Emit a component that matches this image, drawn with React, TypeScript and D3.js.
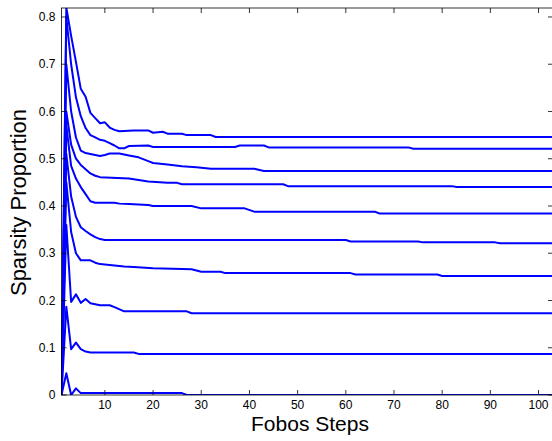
import React from 'react';
import * as d3 from 'd3';

// [step, value]; flat stretches are given by their end points
const run1 = [[1, 0], [2, 0.82], [3, 0.76], [4, 0.705], [5, 0.648], [6, 0.631], [7, 0.597], [8, 0.586], [9, 0.575], [10, 0.577], [11, 0.566], [12, 0.561], [13, 0.558], [16, 0.56], [19, 0.56], [20, 0.555], [22, 0.557], [23, 0.553], [26, 0.553], [27, 0.55], [32, 0.55], [33, 0.546], [103, 0.546]];
const run2 = [[1, 0], [2, 0.8], [3, 0.7], [4, 0.63], [5, 0.59], [6, 0.565], [7, 0.55], [8, 0.545], [9, 0.54], [10, 0.538], [11, 0.533], [12, 0.528], [13, 0.522], [14, 0.522], [15, 0.527], [19, 0.528], [20, 0.525], [37, 0.525], [38, 0.528], [43, 0.528], [44, 0.524], [73, 0.524], [74, 0.521], [103, 0.521]];
const run3 = [[1, 0], [2, 0.7], [3, 0.6], [4, 0.545], [5, 0.517], [6, 0.512], [7, 0.51], [8, 0.508], [9, 0.506], [10, 0.508], [11, 0.511], [13, 0.511], [15, 0.507], [17, 0.503], [19, 0.495], [20, 0.491], [23, 0.488], [26, 0.484], [29, 0.482], [32, 0.479], [41, 0.479], [43, 0.474], [103, 0.474]];
const run4 = [[1, 0], [2, 0.6], [3, 0.53], [4, 0.5], [5, 0.487], [6, 0.478], [7, 0.469], [8, 0.464], [9, 0.461], [15, 0.458], [19, 0.452], [23, 0.449], [25, 0.449], [26, 0.446], [47, 0.446], [48, 0.442], [82, 0.442], [83, 0.44], [103, 0.44]];
const run5 = [[1, 0], [2, 0.57], [3, 0.485], [4, 0.458], [5, 0.44], [6, 0.425], [7, 0.41], [8, 0.407], [12, 0.407], [13, 0.405], [15, 0.404], [19, 0.402], [20, 0.4], [28, 0.4], [30, 0.395], [39, 0.395], [41, 0.388], [66, 0.388], [67, 0.384], [103, 0.384]];
const run6 = [[1, 0], [2, 0.51], [3, 0.42], [4, 0.377], [5, 0.355], [6, 0.347], [7, 0.34], [8, 0.334], [9, 0.33], [10, 0.328], [60, 0.328], [61, 0.325], [75, 0.325], [76, 0.323], [91, 0.323], [92, 0.321], [103, 0.321]];
const run7 = [[1, 0], [2, 0.45], [3, 0.345], [4, 0.3], [5, 0.285], [7, 0.285], [8, 0.28], [9, 0.277], [11, 0.275], [14, 0.272], [16, 0.271], [20, 0.268], [28, 0.266], [30, 0.261], [34, 0.261], [35, 0.258], [61, 0.258], [62, 0.255], [79, 0.255], [80, 0.252], [103, 0.252]];
const run8 = [[1, 0], [2, 0.36], [3, 0.197], [4, 0.213], [5, 0.195], [6, 0.203], [7, 0.194], [8, 0.192], [9, 0.19], [11, 0.19], [12, 0.186], [14, 0.177], [27, 0.177], [28, 0.173], [103, 0.173]];
const run9 = [[1, 0], [2, 0.187], [3, 0.097], [4, 0.111], [5, 0.097], [6, 0.092], [7, 0.09], [16, 0.09], [17, 0.087], [103, 0.087]];
const run10 = [[1, 0], [2, 0.046], [3, 0], [4, 0.014], [5, 0.004], [26, 0.004], [27, 0], [103, 0]];

const runs = [run1, run2, run3, run4, run5, run6, run7, run8, run9, run10];

const xTicks = [10, 20, 30, 40, 50, 60, 70, 80, 90, 100];
const yTicks = [0, 0.1, 0.2, 0.3, 0.4, 0.5, 0.6, 0.7, 0.8];

const W = 552;
const H = 441;
const left = 61.5, right = 553, top = 8, bottom = 395;
const font = '"Liberation Sans", Arial, Helvetica, sans-serif';

export default function App() {
  const x = d3.scaleLinear().domain([1, 103]).range([left, right]);
  const y = d3.scaleLinear().domain([0, 0.819]).range([bottom, top]);
  const line = d3.line<number[]>().x(d => x(d[0])).y(d => y(d[1]));
  const tick = 5;

  return (
    <svg width={W} height={H} style={{ position: 'absolute', left: 0, top: 0, background: '#fff' }}>
      <defs>
        <clipPath id="plot">
          <rect x={left} y={top} width={right - left} height={bottom - top} />
        </clipPath>
      </defs>
      <rect x={0} y={0} width={W} height={H} fill="#fff" />
      <g clipPath="url(#plot)">
        {runs.map((r, i) => (
          <path key={i} d={line(r) || ''} fill="none" stroke="#0000ff" strokeWidth={2} strokeLinejoin="round" />
        ))}
      </g>
      <g stroke="#000" strokeWidth={0.8} fill="none">
        <rect x={left} y={top} width={right - left} height={bottom - top} />
        {xTicks.map(t => (
          <g key={'x' + t}>
            <line x1={x(t)} x2={x(t)} y1={bottom} y2={bottom - tick} />
            <line x1={x(t)} x2={x(t)} y1={top} y2={top + tick} />
          </g>
        ))}
        {yTicks.map(t => (
          <g key={'y' + t}>
            <line x1={left} x2={left + tick} y1={y(t)} y2={y(t)} />
            <line x1={right} x2={right - tick} y1={y(t)} y2={y(t)} />
          </g>
        ))}
      </g>
      <g fontFamily={font} fontSize={12} fill="#000">
        {xTicks.map(t => (
          <text key={'xl' + t} x={x(t)} y={bottom + 14} textAnchor="middle">{t}</text>
        ))}
        {yTicks.map(t => (
          <text key={'yl' + t} x={left - 6} y={y(t)} dy="0.35em" textAnchor="end">{d3.format('')(+t.toFixed(1))}</text>
        ))}
      </g>
      <text x={310} y={431} textAnchor="middle" fontFamily={font} fontSize={21}>Fobos Steps</text>
      <text transform={`translate(26,202.5) rotate(-90)`} textAnchor="middle" fontFamily={font} fontSize={22}>Sparsity Proportion</text>
    </svg>
  );
}
